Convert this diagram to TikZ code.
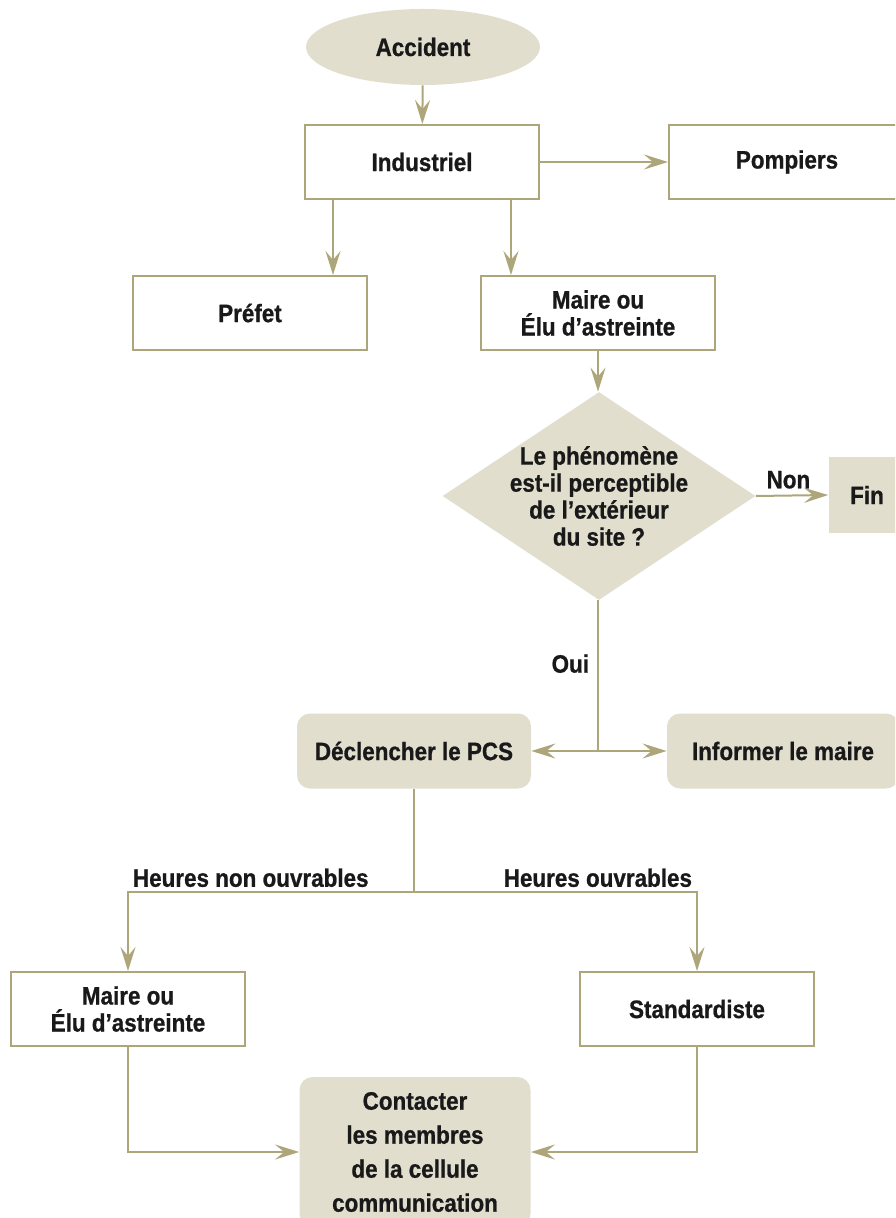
\documentclass[tikz,border=0pt]{standalone}
\usepackage{fontspec}
\newfontfamily\chartfont{Liberation Sans}[FakeStretch=0.89,FakeBold=0.8]
\usepackage{tikz}
\usetikzlibrary{shapes.geometric,arrows.meta,positioning}

\definecolor{trait}{HTML}{ADA67A}
\definecolor{fond}{HTML}{E2DECE}

\tikzset{
  texte/.style={font=\chartfont\bfseries\fontsize{12.6}{13.5}\selectfont, text=black!90, align=center},
  boite/.style={texte, draw=trait, line width=1pt, fill=white, minimum width=117pt, minimum height=37pt},
  depart/.style={texte, ellipse, fill=fond, minimum width=117pt, minimum height=38pt},
  action/.style={texte, fill=fond, rounded corners=6.5pt, minimum width=117pt, minimum height=37.5pt},
  question/.style={diamond, fill=fond, minimum width=156.5pt, minimum height=104pt, inner sep=0pt},
  fleche/.style={draw=trait, line width=1pt}
}

\begin{document}
\begin{tikzpicture}[x=0.5pt,y=-0.5pt,>={Stealth[length=12pt,width=7.5pt,inset=4.5pt]}]
    \useasboundingbox (0,0) rectangle (895,1218);
    \clip (0,0) rectangle (895,1218);
    % noeuds
    \node[depart] (acc) at (423,47) {Accident};
    \node[boite] (ind) at (422,162) {Industriel};
    \node[boite, minimum width=118pt] (pomp) at (787,162) {Pompiers};
    \node[boite] (pref) at (250,313) {Préfet};
    \node[boite] (maire) at (598,313) {Maire ou\\Élu d’astreinte};
    \node[question, label={[texte]center:{Le phénomène\\est-il perceptible\\de l’extérieur\\du site ?}}] (q) at (599,496) {};
    \node[action, rounded corners=0pt, minimum width=38.5pt] (fin) at (867,495) {Fin};
    \node[action] (decl) at (414,751) {Déclencher le PCS};
    \node[action, minimum width=116pt] (inf) at (783,751) {Informer le maire};
    \node[boite] (maire2) at (128,1009) {Maire ou\\Élu d’astreinte};
    \node[boite] (std) at (697,1009) {Standardiste};
    \node[action, minimum width=115.5pt, minimum height=75pt, font=\chartfont\bfseries\fontsize{12.6}{17}\selectfont] (cont) at (415,1152) {Contacter\\les membres\\de la cellule\\communication};
    % liaisons
    \draw[fleche,->] (acc) -- (ind);
    \draw[fleche,->] (ind) -- (pomp);
    \draw[fleche,->] ([xshift=14.5pt]ind.south west) -- ([xshift=14.5pt]ind.south west |- pref.north);
    \draw[fleche,->] ([xshift=-14.5pt]ind.south east) -- ([xshift=-14.5pt]ind.south east |- maire.north);
    \draw[fleche,->] (maire.south) -- (maire.south |- q.north);
    \draw[fleche,->] (q.east) -- node[texte, above, pos=0.45, inner sep=3pt]{Non} (fin.west);
    \coordinate (j) at (maire.south |- decl.east);
    \draw[fleche] (maire.south |- q.south) -- node[texte, left, pos=0.42, inner sep=4pt]{Oui} (j);
    \draw[fleche,->] (j) -- (decl.east);
    \draw[fleche,->] (j) -- (inf.west);
    \coordinate (k) at (decl.south |- 0,892);
    \draw[fleche] (decl.south) -- (k);
    \draw[fleche,->] (k) -- (k -| maire2.north) node[texte, anchor=south west, inner sep=2pt]{Heures non ouvrables} -- (maire2.north);
    \draw[fleche,->] (k) -- (k -| std.north) node[texte, anchor=south east, inner sep=2pt]{Heures ouvrables} -- (std.north);
    \draw[fleche,->] (maire2.south) |- (cont.west);
    \draw[fleche,->] (std.south) |- (cont.east);
\end{tikzpicture}
\end{document}
